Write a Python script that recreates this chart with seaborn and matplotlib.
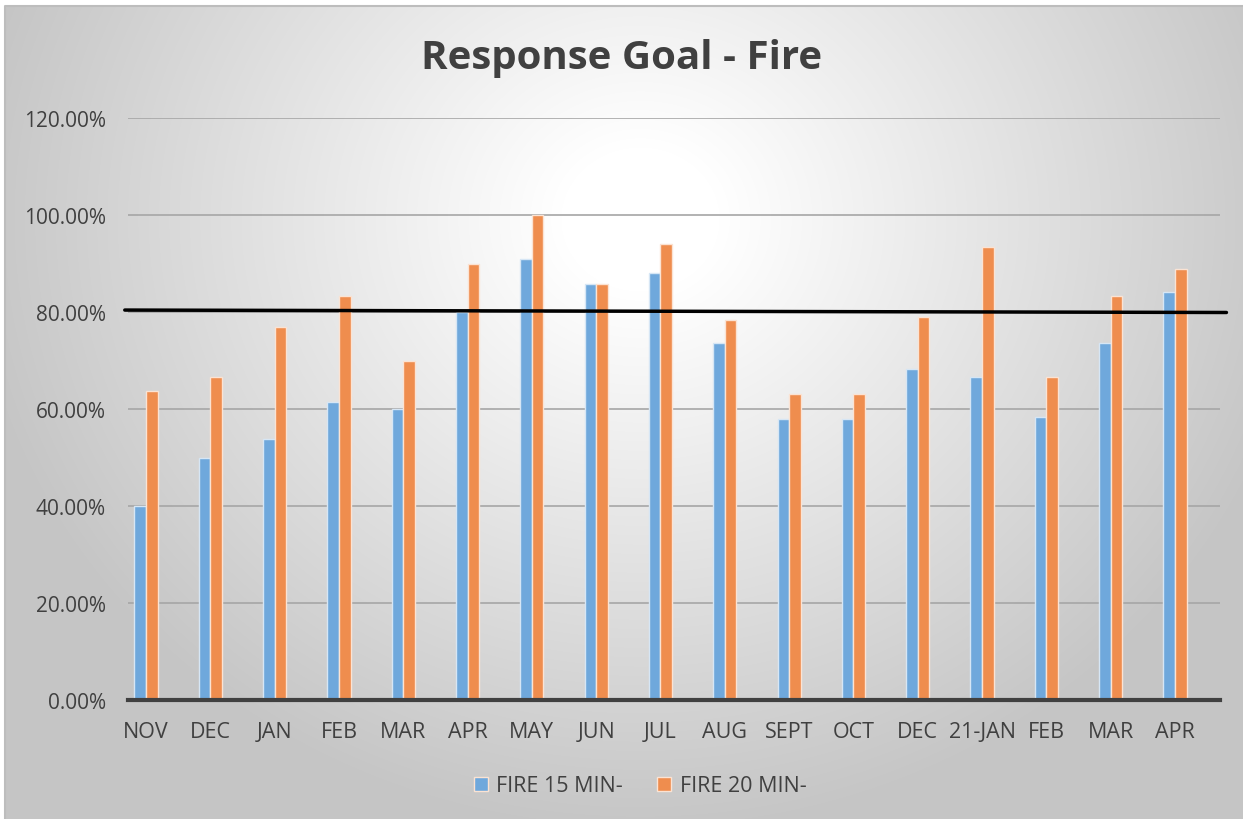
import numpy as np
import pandas as pd
import matplotlib
matplotlib.use('Agg')
import matplotlib.pyplot as plt
import seaborn as sns

months = ['NOV', 'DEC', 'JAN', 'FEB', 'MAR', 'APR', 'MAY', 'JUN', 'JUL', 'AUG',
          'SEPT', 'OCT', 'DEC', '21-JAN', 'FEB', 'MAR', 'APR']
fire_15 = [40.00, 50.00, 53.85, 61.54, 60.00, 80.00, 90.91, 85.71, 88.00, 73.68,
           57.89, 57.89, 68.18, 66.67, 58.33, 73.68, 84.21]
fire_20 = [63.64, 66.67, 76.92, 83.33, 70.00, 90.00, 100.00, 85.71, 94.12, 78.26,
           63.16, 63.16, 78.95, 93.33, 66.67, 83.33, 88.89]
series_names = ['FIRE 15 MIN-', 'FIRE 20 MIN-']
goal_line = [80.4, 79.9]  # hand drawn target line, slightly tilted

sns.set_style('white')
plt.rcParams['font.family'] = ['Open Sans', 'DejaVu Sans']

data = pd.DataFrame({
    'period': list(range(len(months))) * 2,
    'value': fire_15 + fire_20,
    'series': [series_names[0]] * len(months) + [series_names[1]] * len(months),
})

fig = plt.figure(figsize=(12.43, 8.20), dpi=100)

# radial grey -> white background like the excel chart area
bg = fig.add_axes([0, 0, 1, 1], zorder=-5)
h, w = 820, 1243
yy, xx = np.mgrid[0:h, 0:w]
dist = np.sqrt((xx - 640) ** 2 + ((yy - 220) * 1.1) ** 2)
shade = np.clip(1.03 - 0.00038 * dist, 0.775, 1.0)
bg.imshow(np.dstack([shade] * 3), extent=[0, w, h, 0], aspect='auto')
bg.plot([5, 5, 1243], [820, 7, 7], color='#bdbdbd', lw=1.5)
bg.fill_between([0, 1243], 0, 6, color='white')
bg.fill_between([0, 4], 0, 820, color='white')
bg.set_xlim(0, w)
bg.set_ylim(h, 0)
bg.axis('off')

ax = fig.add_axes([128 / w, 1 - 701 / h, (1220 - 128) / w, (701 - 119) / h])
ax.set_facecolor('none')

sns.barplot(data=data, x='period', y='value', hue='series', ax=ax,
            palette=['#6fa8dc', '#ef8d4e'], width=0.36, saturation=1,
            edgecolor='#fbe3d3', linewidth=1.0, legend=True)
for bar in ax.patches[:len(months)]:
    bar.set_edgecolor('#d6e6f5')

ax.set_ylim(0, 120)
ax.set_xlim(-0.28, 16.70)
ax.set_yticks(range(0, 121, 20))
ax.set_yticklabels([f'{v:.2f}%' for v in range(0, 121, 20)])
ax.set_xticks(range(len(months)))
ax.set_xticklabels(months)
ax.tick_params(axis='both', length=0, colors='#404040')
ax.tick_params(axis='x', pad=15, labelsize=15.5)
ax.tick_params(axis='y', pad=16, labelsize=15)
ax.yaxis.grid(True, color='#a6a6a6', lw=1.2)
ax.set_axisbelow(True)
for side in ['top', 'right', 'left']:
    ax.spines[side].set_visible(False)
ax.spines['bottom'].set_color('#404040')
ax.spines['bottom'].set_linewidth(3)
ax.set_xlabel('')
ax.set_ylabel('')

ax.plot([-0.33, 16.8], goal_line, color='black', lw=2.5, clip_on=False, zorder=5)

fig.text(0.5, 1 - 58 / h, 'Response Goal - Fire', ha='center', va='center',
         fontsize=29, fontweight='bold', color='#404040')

handles, labels = ax.get_legend_handles_labels()
ax.legend(handles, labels, loc='center', bbox_to_anchor=(0.515, 1 - 787 / h),
          bbox_transform=fig.transFigure, ncol=2, frameon=False, fontsize=15.5,
          handlelength=0.65, handleheight=0.65, handletextpad=0.4, columnspacing=1.6,
          labelcolor='#404040')

fig.savefig('out.png', dpi=100)
